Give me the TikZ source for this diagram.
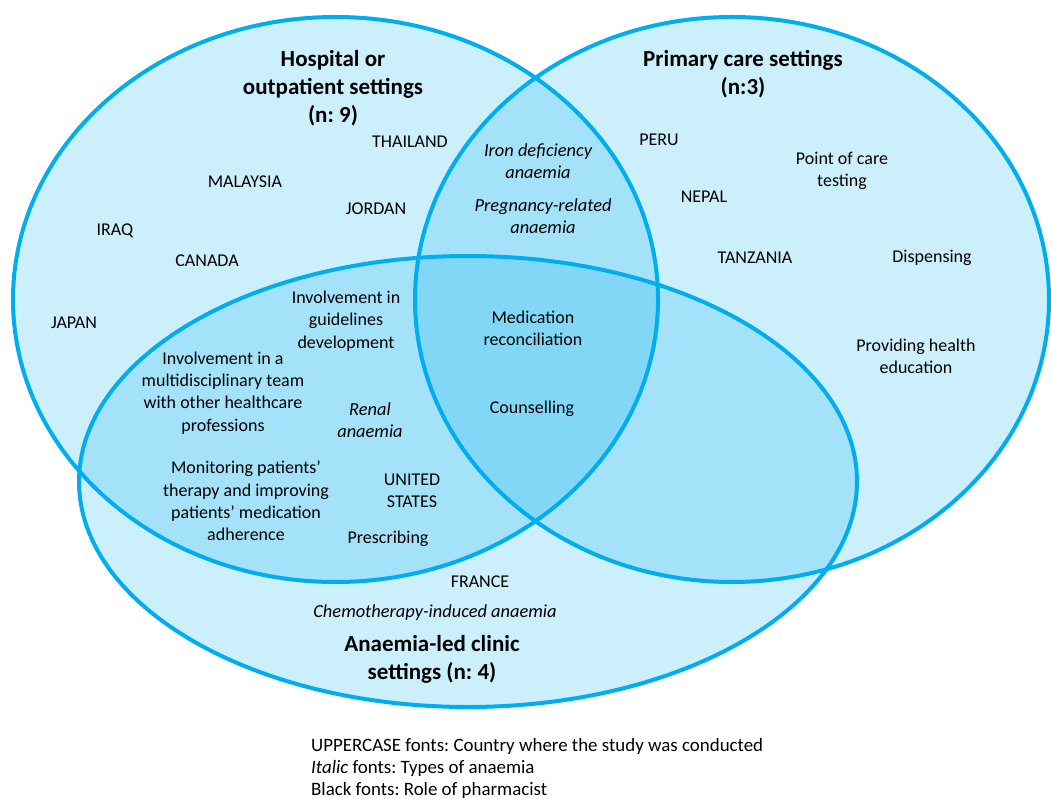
\documentclass[tikz,border=0pt]{standalone}
\usepackage{fontspec}
\setmainfont{Carlito}
\definecolor{vblue}{HTML}{00AEEF}
\begin{document}
\frenchspacing
\begin{tikzpicture}[x=1pt,y=-1pt,
  lbl/.style={align=center,inner sep=0pt,font=\fontsize{18}{22.3}\selectfont},
  ital/.style={lbl,font=\fontsize{18.4}{22.3}\selectfont\itshape},
  ttl/.style={align=center,inner sep=0pt,font=\fontsize{23}{28}\selectfont\bfseries},
  vfill/.style={fill=vblue,fill opacity=0.2},
  vline/.style={draw=vblue,line width=4pt}]
\useasboundingbox (0,0) rectangle (1051,799);
% fills
\fill[vfill] (335.5,299.5) ellipse [x radius=322.5pt, y radius=282.5pt];
\fill[vfill] (732,299.5) ellipse [x radius=317pt, y radius=282.5pt];
\fill[vfill] (468,481.5) ellipse [x radius=389pt, y radius=225.5pt];
% outlines
\draw[vline] (335.5,299.5) ellipse [x radius=322.5pt, y radius=282.5pt];
\draw[vline] (732,299.5) ellipse [x radius=317pt, y radius=282.5pt];
\draw[vline] (468,481.5) ellipse [x radius=389pt, y radius=225.5pt];
% titles
\node[ttl] (thosp) at (333,88) {Hospital or\\outpatient settings\\(n: 9)};
\node[ttl] (tprim) at (743,74) {Primary care settings\\(n:3)};
\node[ttl] (tanae) at (432,659) {Anaemia-led clinic\\settings (n: 4)};
% hospital only
\node[lbl] (thai) at (410,142) {THAILAND};
\node[lbl] (malay) at (245,182) {MALAYSIA};
\node[lbl] (jordan) at (376,209) {JORDAN};
\node[lbl] (iraq) at (115,231) {IRAQ};
\node[lbl] (canada) at (207,261) {CANADA};
\node[lbl] (japan) at (74,323) {JAPAN};
% hospital & primary
\node[ital] (iron) at (538,161) {Iron deficiency\\anaemia};
\node[ital] (preg) at (543,216) {Pregnancy-related\\anaemia};
% primary only
\node[lbl] (peru) at (659,140) {PERU};
\node[lbl] (nepal) at (704,197) {NEPAL};
\node[lbl] (tanz) at (755,258) {TANZANIA};
\node[lbl] (poc) at (842,171) {Point of care\\testing};
\node[lbl] (disp) at (932,258) {Dispensing};
\node[lbl] (health) at (916,356) {Providing health\\education};
% hospital & anaemia
\node[lbl] (guide) at (346,321) {Involvement in\\guidelines\\development};
\node[lbl] (multi) at (223,393) {Involvement in a\\multidisciplinary team\\with other healthcare\\professions};
\node[ital] (renal) at (370,420) {Renal\\anaemia};
\node[lbl] (monit) at (246,501) {Monitoring patients’\\therapy and improving\\patients’ medication\\adherence};
\node[lbl] (us) at (412,491) {UNITED\\STATES};
\node[lbl] (presc) at (388,539) {Prescribing};
% all three
\node[lbl] (medrec) at (533,328) {Medication\\reconciliation};
\node[lbl] (couns) at (532,409) {Counselling};
% anaemia only
\node[lbl] (france) at (480,582) {FRANCE};
\node[ital] (chemo) at (435,613) {Chemotherapy-induced anaemia};
% legend
\node[lbl,align=left,anchor=west,font=\fontsize{18.9}{22.3}\selectfont] (legend) at (311,768.5) {UPPERCASE fonts: Country where the study was conducted\\\textit{Italic} fonts: Types of anaemia\\Black fonts: Role of pharmacist};
\end{tikzpicture}
\end{document}
